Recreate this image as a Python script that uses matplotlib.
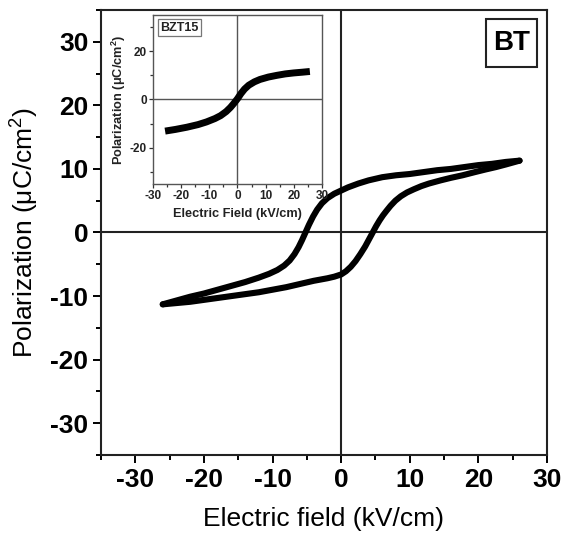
import matplotlib
matplotlib.use("Agg")
import matplotlib.pyplot as plt
from matplotlib.patches import Rectangle
from matplotlib.ticker import MultipleLocator

plt.rcParams['font.family'] = ['Liberation Sans', 'DejaVu Sans']
plt.rcParams['axes.unicode_minus'] = False
plt.rcParams['mathtext.fontset'] = 'custom'
plt.rcParams['mathtext.rm'] = 'Liberation Sans'
plt.rcParams['mathtext.it'] = 'Liberation Sans:italic'
plt.rcParams['mathtext.bf'] = 'Liberation Sans:bold'

# BT hysteresis loop: descending-field branch (E from +26 to -26 kV/cm)
bt_down_E = [26.0, 24.0, 22.0, 20.0, 18.0, 16.0, 14.0, 12.0, 10.0, 8.0, 6.0, 4.0, 2.5, 1.0,
             0.0, -1.0, -2.0, -2.8, -3.5, -4.1, -4.7, -5.2, -5.7, -6.2, -6.8, -7.5, -8.3,
             -9.3, -10.5, -12.0, -14.0, -16.0, -18.0, -20.0, -22.0, -24.0, -25.0, -26.0]
bt_down_P = [11.3, 11.1, 10.8, 10.6, 10.3, 10.0, 9.8, 9.5, 9.2, 9.0, 8.7, 8.2, 7.7, 7.1,
             6.6, 6.1, 5.4, 4.6, 3.6, 2.5, 1.2, 0.0, -1.2, -2.3, -3.4, -4.4, -5.2,
             -5.9, -6.5, -7.1, -7.8, -8.4, -9.0, -9.6, -10.1, -10.7, -11.0, -11.3]

# ascending-field branch (E from -26 to +26 kV/cm)
bt_up_E = [-26.0, -25.0, -24.0, -22.0, -20.0, -18.0, -16.0, -14.0, -12.0, -10.0, -8.0, -6.0,
           -4.0, -3.0, -2.0, -1.0, 0.0, 0.7, 1.4, 2.1, 2.8, 3.5, 4.1, 4.6, 5.1, 5.6, 6.1,
           6.6, 7.2, 7.9, 8.7, 9.6, 10.6, 11.7, 12.8, 14.5, 16.0, 17.7, 19.5, 21.0, 22.6,
           24.0, 25.0, 26.0]
bt_up_P = [-11.3, -11.2, -11.1, -10.9, -10.6, -10.3, -10.0, -9.7, -9.4, -9.0, -8.6, -8.1,
           -7.6, -7.4, -7.2, -6.95, -6.6, -6.1, -5.4, -4.5, -3.4, -2.2, -1.0, 0.0, 1.0,
           1.9, 2.7, 3.4, 4.2, 5.0, 5.7, 6.3, 6.8, 7.3, 7.7, 8.2, 8.6, 9.0, 9.5, 9.9, 10.3,
           10.7, 11.0, 11.3]

# BZT15 loop (inset), nearly hysteresis-free
bzt_E = [-25.7, -22.0, -18.0, -14.0, -11.0, -8.0, -6.0, -4.0, -2.5, -1.2, 0.0, 1.2, 2.5,
         4.0, 6.0, 8.0, 11.0, 14.0, 17.0, 20.0, 23.0, 25.7]
bzt_P = [-13.1, -12.4, -11.5, -10.4, -9.3, -7.9, -6.7, -5.0, -3.3, -1.5, 0.3, 2.4, 4.3,
         5.9, 7.3, 8.3, 9.3, 10.0, 10.6, 11.0, 11.3, 11.6]

main_xticks = [-30, -20, -10, 0, 10, 20, 30]
main_yticks = [-30, -20, -10, 0, 10, 20, 30]
inset_xticks = [-30, -20, -10, 0, 10, 20, 30]
inset_yticks = [-20, 0, 20]

fig = plt.figure(figsize=(5.62, 5.37), dpi=100)
ax = fig.add_axes([0.1797, 0.1527, 0.7936, 0.8287])

ax.axhline(0, color='#222222', lw=1.5, zorder=1)
ax.axvline(0, color='#222222', lw=1.5, zorder=1)
ax.plot(bt_down_E, bt_down_P, color='black', lw=4.4, solid_capstyle='round',
        solid_joinstyle='round', zorder=3)
ax.plot(bt_up_E, bt_up_P, color='black', lw=4.4, solid_capstyle='round',
        solid_joinstyle='round', zorder=3)

ax.set_xlim(-35, 30)
ax.set_ylim(-35, 35)
ax.set_xticks(main_xticks)
ax.set_yticks(main_yticks)
ax.xaxis.set_minor_locator(MultipleLocator(5))
ax.yaxis.set_minor_locator(MultipleLocator(5))
ax.tick_params(which='major', direction='out', length=6, width=1.4, pad=3)
ax.tick_params(which='minor', direction='out', length=3.5, width=1.4)
for lab in ax.get_xticklabels() + ax.get_yticklabels():
    lab.set_fontsize(19)
    lab.set_fontweight('bold')
for sp in ax.spines.values():
    sp.set_linewidth(1.5)
    sp.set_color('#222222')

ax.set_xlabel('Electric field (kV/cm)', fontsize=19, labelpad=11)
ax.set_ylabel('Polarization (μC/cm$^2$)', fontsize=19, labelpad=6.5)

# sample tag box
ax.add_patch(Rectangle((0.863, 0.872), 0.115, 0.108, transform=ax.transAxes,
                       fill=False, lw=1.5, edgecolor='#222222', zorder=4))
ax.text(0.9205, 0.926, 'BT', transform=ax.transAxes, ha='center', va='center',
        fontsize=20, fontweight='bold', zorder=5)

# inset
ins = fig.add_axes([0.2722, 0.6574, 0.3007, 0.3147])
ins.axhline(0, color='#555555', lw=1.0, zorder=1)
ins.axvline(0, color='#555555', lw=1.0, zorder=1)
ins.plot(bzt_E, bzt_P, color='black', lw=5.0, solid_capstyle='butt',
         solid_joinstyle='round', zorder=3)
ins.set_xlim(-30, 30)
ins.set_ylim(-35, 35)
ins.set_xticks(inset_xticks)
ins.set_yticks(inset_yticks)
ins.xaxis.set_minor_locator(MultipleLocator(5))
ins.yaxis.set_minor_locator(MultipleLocator(10))
ins.tick_params(which='major', direction='out', length=3, width=0.9, pad=1.5,
                colors='#333333', labelcolor='#222222')
ins.tick_params(which='minor', direction='out', length=2, width=0.9, colors='#333333')
for lab in ins.get_xticklabels() + ins.get_yticklabels():
    lab.set_fontsize(8.5)
    lab.set_fontweight('bold')
for sp in ins.spines.values():
    sp.set_linewidth(1.0)
    sp.set_color('#555555')
ins.set_xlabel('Electric Field (kV/cm)', fontsize=9.2, fontweight='bold', labelpad=4,
               color='#222222')
ins.set_ylabel('Polarization (μC/cm$^\\mathbf{2}$)', fontsize=9.2,
               fontweight='bold', labelpad=1, color='#222222')
ins.text(0.045, 0.925, 'BZT15', transform=ins.transAxes, ha='left', va='center',
         fontsize=9, fontweight='bold', color='#222222',
         bbox=dict(boxstyle='square,pad=0.2', fc='white', ec='#777777', lw=0.9))

fig.savefig('out.png', dpi=100)
